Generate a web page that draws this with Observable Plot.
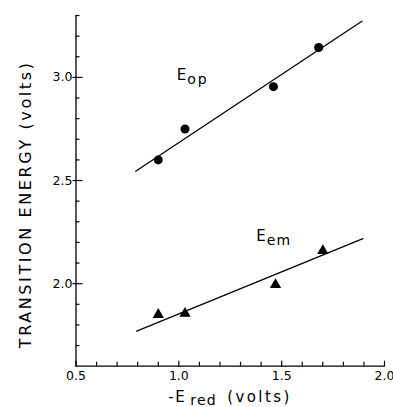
<!DOCTYPE html>
<html><head><meta charset="utf-8">
<script src="https://cdn.jsdelivr.net/npm/d3@7"></script>
<script src="https://cdn.jsdelivr.net/npm/@observablehq/plot@0.6"></script>
<style>body{margin:0;background:#fff}</style>
</head><body><div id="chart"></div>
<script>
// Data
const eopX = [0.90, 1.03, 1.46, 1.68];
const eopY = [2.60, 2.75, 2.955, 3.145];
const eemX = [0.90, 1.03, 1.47, 1.70];
const eemY = [1.85, 1.855, 1.995, 2.16];
const eopFitX = [0.79, 1.89];
const eopFitY = [2.545, 3.272];
const eemFitX = [0.795, 1.895];
const eemFitY = [1.77, 2.218];
const xMajorTicks = [0.5, 1.0, 1.5, 2.0];
const xMinorTicks = [0.6, 0.7, 0.8, 0.9, 1.1, 1.2, 1.3, 1.4, 1.6, 1.7, 1.8, 1.9];
const yMajorTicks = [2.0, 2.5, 3.0];
const yMinorTicks = [1.7, 1.8, 1.9, 2.1, 2.2, 2.3, 2.4, 2.6, 2.7, 2.8, 2.9, 3.1, 3.2, 3.3];

const eop = eopX.map((x, i) => ({x, y: eopY[i]}));
const eem = eemX.map((x, i) => ({x, y: eemY[i]}));
const eopFit = eopFitX.map((x, i) => ({x, y: eopFitY[i]}));
const eemFit = eemFitX.map((x, i) => ({x, y: eemFitY[i]}));

const W = 393, H = 407, ML = 75.5, MR = 9, MT = 15, MB = 41.3;
const FW = W - ML - MR, FH = H - MT - MB;
const font = "DejaVu Sans";
const chart = Plot.plot({
  width: W, height: H,
  marginLeft: ML, marginRight: MR, marginTop: MT, marginBottom: MB,
  style: {fontFamily: font, background: "#fff", color: "#000"},
  x: {domain: [0.5, 2.0], axis: null},
  y: {domain: [1.6, 3.3], axis: null},
  marks: [
    Plot.ruleX([0.5], {strokeWidth: 1.3}),
    Plot.ruleY([1.6], {strokeWidth: 1.3}),
    Plot.tickX(xMinorTicks, {x: d => d, insetTop: FH - 4, strokeWidth: 1.2}),
    Plot.tickX(xMajorTicks, {x: d => d, insetTop: FH - 5, insetBottom: -1, strokeWidth: 1.2}),
    Plot.tickY(yMinorTicks, {y: d => d, insetRight: FW - 4, strokeWidth: 1.2}),
    Plot.tickY(yMajorTicks, {y: d => d, insetRight: FW - 7, insetLeft: -3, strokeWidth: 1.2}),
    Plot.text(xMajorTicks, {x: d => d, frameAnchor: "bottom", text: d => d3.format(".1f")(d), lineAnchor: "top", dy: 5, fontSize: 12.5}),
    Plot.text(yMajorTicks, {y: d => d, frameAnchor: "left", text: d => d3.format(".1f")(d), textAnchor: "end", dx: -3.5, fontSize: 12.5}),
    Plot.line(eopFit, {x: "x", y: "y", strokeWidth: 1.3}),
    Plot.line(eemFit, {x: "x", y: "y", strokeWidth: 1.3}),
    Plot.dot(eop, {x: "x", y: "y", r: 4.5, fill: "#000", stroke: "none"}),
    Plot.dot(eem, {x: "x", y: "y", r: 4.2, symbol: "triangle", fill: "#000", stroke: "none"}),
    // series labels
    Plot.text(["E"], {x: 0.99, y: 3.0, text: d => d, textAnchor: "start", lineAnchor: "bottom", dy: 3, fontSize: 15}),
    Plot.text(["op"], {x: 0.99, y: 3.0, text: d => d, textAnchor: "start", lineAnchor: "bottom", dx: 10.5, dy: 7, fontSize: 14}),
    Plot.text(["E"], {x: 1.376, y: 2.22, text: d => d, textAnchor: "start", lineAnchor: "bottom", dy: 3, fontSize: 15}),
    Plot.text(["em"], {x: 1.376, y: 2.22, text: d => d, textAnchor: "start", lineAnchor: "bottom", dx: 10.5, dy: 7, fontSize: 14}),
    // axis titles
    Plot.text(["TRANSITION ENERGY (volts)"], {frameAnchor: "left", text: d => d, rotate: -90, dx: -50.5, dy: 13.5, fontSize: 16, textAnchor: "middle", lineAnchor: "middle"}),
    Plot.text(["-E"], {frameAnchor: "bottom", text: d => d, textAnchor: "start", lineAnchor: "bottom", dx: -62, dy: 35.5, fontSize: 15}),
    Plot.text(["red"], {frameAnchor: "bottom", text: d => d, textAnchor: "start", lineAnchor: "bottom", dx: -40, dy: 39, fontSize: 14}),
    Plot.text(["(volts)"], {frameAnchor: "bottom", text: d => d, textAnchor: "start", lineAnchor: "bottom", dx: -3, dy: 35.5, fontSize: 15})
  ]
});
const spacing = {"TRANSITION ENERGY (volts)": "2.6px", "op": "2px", "em": "1.2px", "-E": "1.5px", "red": "1.2px", "(volts)": "2.4px"};
d3.select(chart).selectAll("text").each(function() {
  const s = spacing[this.textContent];
  if (s) this.style.letterSpacing = s;
});
document.getElementById("chart").append(chart);
</script>
</body></html>
